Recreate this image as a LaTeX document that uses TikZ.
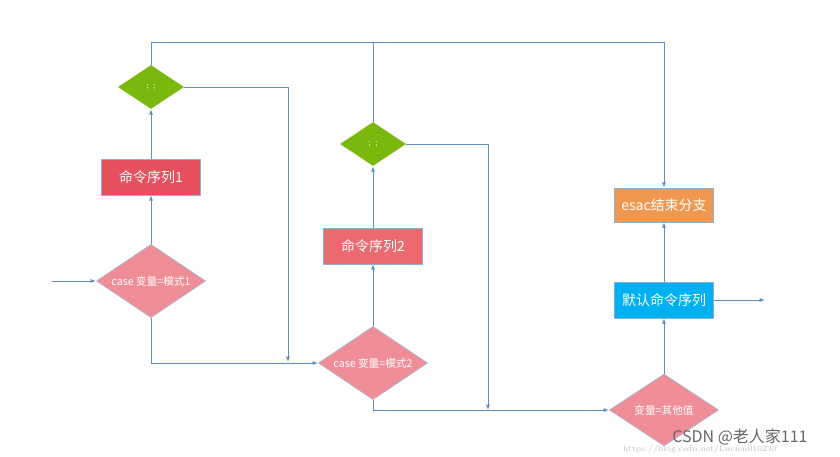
\documentclass[tikz,border=0pt]{standalone}
\usepackage{fontspec}
\newfontfamily\cjk{Noto Sans CJK SC}
\usetikzlibrary{shapes.geometric,arrows.meta}
\definecolor{ln}{HTML}{5B8FC2}
\definecolor{pk}{HTML}{F08E98}
\definecolor{gr}{HTML}{7AB80E}
\definecolor{rd1}{HTML}{E8505F}
\definecolor{rd2}{HTML}{EA6A70}
\definecolor{cy}{HTML}{00B0F0}
\definecolor{og}{HTML}{F0984F}
\tikzset{
 dia/.style={diamond,aspect=1.5,fill=pk,draw=ln!60,inner sep=0pt,text=white,font=\cjk\fontsize{8}{9}\selectfont},
 gdia/.style={diamond,aspect=1.5,fill=gr,inner sep=0pt,minimum width=49.5pt,minimum height=33pt,text=white,font=\fontsize{7}{8}\selectfont},
 box/.style={rectangle,draw=ln!70,minimum width=74pt,minimum height=27pt,text=white,inner sep=0pt,font=\cjk\fontsize{10.5}{12}\selectfont},
 conn/.style={ln,line width=0.7pt},
 arr/.style={conn,-{Latex[length=4pt,width=3pt]}}
}
\begin{document}
\begin{tikzpicture}[x=0.75pt,y=-0.75pt]
\useasboundingbox (0,0) rectangle (840,457);
\node[gdia] (g1) at (151,87) {; ;};
\node[box,fill=rd1] (r1) at (151,177) {命令序列1};
\node[dia,minimum width=82pt,minimum height=55pt] (d1) at (151,281) {case 变量=模式1};
\node[gdia] (g2) at (373,144) {; ;};
\node[box,fill=rd2] (r2) at (373,246) {命令序列2};
\node[dia,minimum width=82pt,minimum height=55pt] (d2) at (373,363) {case 变量=模式2};
\node[dia,minimum width=82pt,minimum height=54pt] (d3) at (664,410) {变量=其他值};
\node[box,fill=cy] (r3) at (664,300) {默认命令序列};
\node[box,fill=og,minimum height=25.5pt] (e) at (664,205) {esac结束分支};
\coordinate (in) at (52,281);
\coordinate (out) at (765,300);
\coordinate (m1) at (288,362);
\coordinate (m2) at (488,410);
\draw[arr] (in) -- (d1.west);
\draw[arr] (d1.north) -- (r1.south);
\draw[arr] (r1.north) -- (g1.south);
\draw[arr] (d1.south) |- (d2.west);
\draw[arr] (g1.east) -| (m1);
\draw[arr] (g1.north) |- (664,42) -- (e.north);
\draw[conn] (g2.north) -- (373,42);
\draw[arr] (d2.north) -- (r2.south);
\draw[arr] (r2.north) -- (g2.south);
\draw[arr] (g2.east) -| (m2);
\draw[arr] (d2.south) |- (d3.west);
\draw[arr] (d3.north) -- (r3.south);
\draw[arr] (r3.north) -- (e.south);
\draw[arr] (r3.east) -- (out);
\node[text=gray!50,font=\fontsize{6}{7}\selectfont] (url) at (700,449) {https://blog.csdn.net/Lucien010230};
\node[text=gray!80!black,font=\cjk\fontsize{12}{14}\selectfont] (wm) at (740,437) {CSDN @老人家111};
\end{tikzpicture}
\end{document}
